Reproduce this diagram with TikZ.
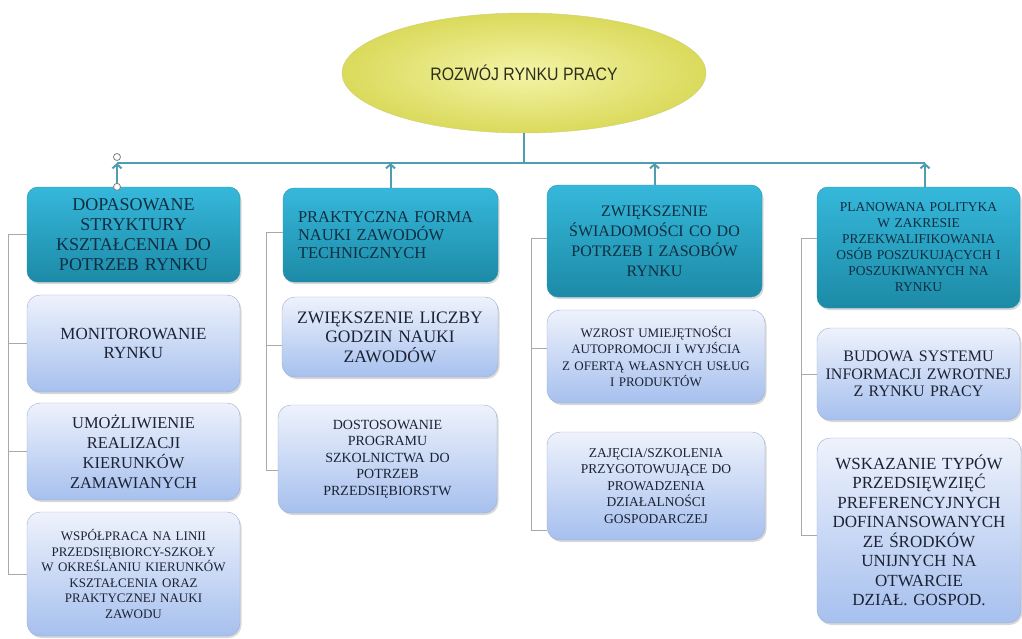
\documentclass[tikz,border=0pt]{standalone}
\usepackage{fontspec}
\setmainfont{Liberation Serif}
\newfontfamily\titlefont[FakeStretch=0.88]{Liberation Sans}
\usetikzlibrary{shapes.geometric,arrows.meta,shadows}

\definecolor{headtop}{HTML}{36B8DB}
\definecolor{headbot}{HTML}{1C8AA6}
\definecolor{headrim}{HTML}{2B93AE}
\definecolor{headtext}{HTML}{0F2E42}
\definecolor{subtop}{HTML}{EEF2FC}
\definecolor{subbot}{HTML}{A6C0EE}
\definecolor{subrim}{HTML}{9AAED0}
\definecolor{subtext}{HTML}{1C2234}
\definecolor{buscol}{HTML}{4E9DB2}
\definecolor{brackcol}{HTML}{A9A9A9}
\definecolor{titlein}{HTML}{F4F4A8}
\definecolor{titleout}{HTML}{DADA5C}
\definecolor{titlerim}{HTML}{CFCF78}
\definecolor{titletext}{HTML}{2E2E18}

\newcommand{\boxfont}[2]{\fontsize{#1}{#2}\selectfont}

\begin{document}
\begin{tikzpicture}[x=1pt,y=-1pt]
   \tikzstyle{headbox}=[draw=headrim, rounded corners=11pt, top color=headtop, bottom color=headbot, text=headtext, align=center, inner xsep=6pt, drop shadow={shadow xshift=1.5pt, shadow yshift=-2pt, opacity=0.3}]
   \tikzstyle{subbox}=[draw=subrim, rounded corners=13pt, top color=subtop, bottom color=subbot, text=subtext, align=center, inner xsep=6pt, drop shadow={shadow xshift=1.5pt, shadow yshift=-2pt, opacity=0.3}]
   \tikzstyle{busline}=[draw=buscol, line width=2.5pt]
   \tikzstyle{uparrow}=[draw=buscol, line width=2pt, -{Straight Barb[length=4pt,width=9pt]}]
   \tikzstyle{bracketline}=[draw=brackcol, line width=0.9pt]
   \tikzstyle{handle}=[draw=gray, fill=white, circle, line width=0.8pt, inner sep=0pt, minimum size=7pt]

\fill[white] (0,0) rectangle (1022,638);
\useasboundingbox (0,0) rectangle (1022,638);

% title
\node[ellipse, draw=titlerim, inner color=titlein, outer color=titleout, minimum width=364pt, minimum height=120pt, inner sep=0pt, text=titletext, font={\titlefont\boxfont{18}{20}}] (title) at (524,73) {ROZWÓJ RYNKU PRACY};

% column heads
\node[headbox, text width=201pt, minimum height=95pt, font={\boxfont{18}{20}}] (dopas) at (133.5,234.5) {DOPASOWANE\\STRYKTURY\\KSZTAŁCENIA DO\\POTRZEB RYNKU};
\node[headbox, align=left, inner xsep=15pt, text width=185pt, minimum height=94pt, font={\boxfont{16.5}{18}}] (prakt) at (390.5,235) {PRAKTYCZNA FORMA\\NAUKI ZAWODÓW\\TECHNICZNYCH};
\node[headbox, text width=203pt, minimum height=112pt, font={\boxfont{16}{20}}] (swiad) at (654.5,241) {ZWIĘKSZENIE\\ŚWIADOMOŚCI CO DO\\POTRZEB I ZASOBÓW\\RYNKU};
\node[headbox, text width=191pt, minimum height=121pt, font={\boxfont{13.5}{16}}] (plan) at (918.5,247.5) {PLANOWANA POLITYKA\\W ZAKRESIE\\PRZEKWALIFIKOWANIA\\OSÓB POSZUKUJĄCYCH I\\POSZUKIWANYCH NA\\RYNKU};

% first column
\node[subbox, text width=201pt, minimum height=97pt, font={\boxfont{17}{19}}] (monit) at (133.5,343.5) {MONITOROWANIE\\RYNKU};
\node[subbox, text width=201pt, minimum height=97pt, font={\boxfont{16.5}{20}}] (umozl) at (133.5,451.5) {UMOŻLIWIENIE\\REALIZACJI\\KIERUNKÓW\\ZAMAWIANYCH};
\node[subbox, text width=201pt, minimum height=124pt, font={\boxfont{13}{15.5}}] (wspol) at (133.5,574) {WSPÓŁPRACA NA LINII\\PRZEDSIĘBIORCY-SZKOŁY\\W OKREŚLANIU KIERUNKÓW\\KSZTAŁCENIA ORAZ\\PRAKTYCZNEJ NAUKI\\ZAWODU};

% second column
\node[subbox, text width=204pt, minimum height=80pt, font={\boxfont{17.5}{19.5}}] (liczba) at (390,337) {ZWIĘKSZENIE LICZBY\\GODZIN NAUKI\\ZAWODÓW};
\node[subbox, text width=207pt, minimum height=108pt, font={\boxfont{14}{16.5}}] (dostos) at (387.5,459) {DOSTOSOWANIE\\PROGRAMU\\SZKOLNICTWA DO\\POTRZEB\\PRZEDSIĘBIORSTW};

% third column
\node[subbox, text width=206pt, minimum height=93pt, font={\boxfont{13}{16.5}}] (wzrost) at (656,356.5) {WZROST UMIEJĘTNOŚCI\\AUTOPROMOCJI I WYJŚCIA\\Z OFERTĄ WŁASNYCH USŁUG\\I PRODUKTÓW};
\node[subbox, text width=206pt, minimum height=108pt, font={\boxfont{13.5}{16.5}}] (zajecia) at (656,486) {ZAJĘCIA/SZKOLENIA\\PRZYGOTOWUJĄCE DO\\PROWADZENIA\\DZIAŁALNOŚCI\\GOSPODARCZEJ};

% fourth column
\node[subbox, text width=191pt, minimum height=92pt, font={\boxfont{16}{17.5}}] (budowa) at (918.5,374) {BUDOWA SYSTEMU\\INFORMACJI ZWROTNEJ\\Z RYNKU PRACY};
\node[subbox, text width=192pt, minimum height=185pt, font={\boxfont{17}{19.5}}] (wskaz) at (919,530.5) {WSKAZANIE TYPÓW\\PRZEDSIĘWZIĘĆ\\PREFERENCYJNYCH\\DOFINANSOWANYCH\\ZE ŚRODKÓW\\UNIJNYCH NA\\OTWARCIE\\DZIAŁ. GOSPOD.};

% bus and arrows
\coordinate (busL) at (117,163);
\coordinate (busR) at (925,163);
\draw[busline] (busL) -- (busR);
\draw[busline] (title.south) -- (title.south |- busL);
\draw[uparrow] ([xshift=-16.5pt]dopas.north) -- (busL);
\draw[uparrow] (prakt.north) -- (prakt.north |- busL);
\draw[uparrow] (swiad.north) -- (swiad.north |- busL);
\draw[uparrow] ([xshift=6.5pt]plan.north) -- (busR);
\node[handle] (hdtop) at (117,157) {};
\node[handle] (hdbot) at ([xshift=-16.5pt]dopas.north) {};

% brackets
\draw[bracketline] (dopas.west) -- ++(-18,0) coordinate (spine1) |- (wspol.west);
\draw[bracketline] (monit.west) -- (monit.west -| spine1);
\draw[bracketline] (umozl.west) -- (umozl.west -| spine1);

\draw[bracketline] ([yshift=3pt]prakt.west) -- ++(-16,0) coordinate (spine2) |- ([yshift=-11pt]dostos.west);
\draw[bracketline] ([yshift=-8pt]liczba.west) -- ([yshift=-8pt]liczba.west -| spine2);

\draw[bracketline] ([yshift=3pt]swiad.west) -- ++(-15,0) coordinate (spine3) |- ([yshift=-44pt]zajecia.west);
\draw[bracketline] ([yshift=8pt]wzrost.west) -- ([yshift=8pt]wzrost.west -| spine3);

\draw[bracketline] ([yshift=9pt]plan.west) -- ++(-15,0) coordinate (spine4) |- ([yshift=-4.5pt]wskaz.west);
\draw[bracketline] (budowa.west) -- (budowa.west -| spine4);

\end{tikzpicture}
\end{document}
